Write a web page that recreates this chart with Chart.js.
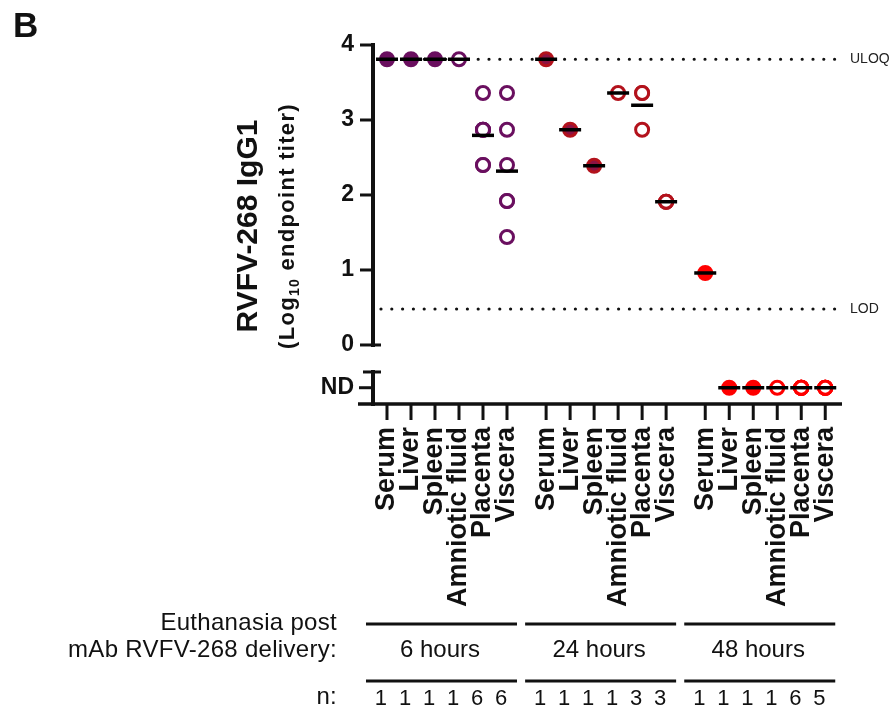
<!DOCTYPE html>
<html>
<head>
<meta charset="utf-8">
<script src="https://cdn.jsdelivr.net/npm/chart.js@4.4.1/dist/chart.umd.min.js"></script>
<style>
  html, body { margin: 0; padding: 0; background: #fff; }
  #wrap { width: 892px; height: 709px; }
</style>
</head>
<body>
<div id="wrap"><canvas id="chart" width="892" height="709"></canvas></div>
<script>
// categories
const tissues = ['Serum', 'Liver', 'Spleen', 'Amniotic fluid', 'Placenta', 'Viscera'];
const timepoints = ['6 hours', '24 hours', '48 hours'];
const maternal = [true, true, true, false, false, false]; // filled symbols

// log10 endpoint titers per tissue ('ND' = not detected)
const titers6h = [[3.81], [3.81], [3.81], [3.81], [3.36, 2.87, 2.87, 2.87, 2.40, 2.40], [3.36, 2.87, 2.40, 1.92, 1.92, 1.44]];
const titers24h = [[3.81], [2.87], [2.39], [3.36], [3.36, 3.36, 2.87], [1.91, 1.91, 1.91]];
const titers48h = [[0.96], ['ND'], ['ND'], ['ND'], ['ND', 'ND', 'ND', 'ND', 'ND', 'ND'], ['ND', 'ND', 'ND', 'ND', 'ND']];
const nCounts = [[1, 1, 1, 1, 6, 6], [1, 1, 1, 1, 3, 3], [1, 1, 1, 1, 6, 5]];

const yTicks = [0, 1, 2, 3, 4];
const uloq = 3.81;
const lod = 0.48;

// layout
const ND_Y = -0.57;      // where ND values sit on the broken axis
const ND_TOP = -0.36;    // top of the ND segment
const GROUP_STEP = 6.63;
const ringColors = ['#6a0f5f', '#b3121c', '#ff0000'];
const fillColors = ['#6a0f5f', '#8e1243', '#ff0000'];
const FONT = '"Liberation Sans", Arial, Helvetica, sans-serif';

Chart.defaults.font.family = FONT;
Chart.defaults.color = '#111';

const xPos = (g, i) => g * GROUP_STEP + i;
const toY = v => v === 'ND' ? ND_Y : v;
const allTiters = [titers6h, titers24h, titers48h];

const tickPositions = [];
const tickLabels = [];
timepoints.forEach((t, g) => tissues.forEach((name, i) => {
    tickPositions.push(xPos(g, i));
    tickLabels.push(name);
}));

const datasets = allTiters.map((grp, g) => ({
    label: timepoints[g],
    data: grp.flatMap((vals, i) => vals.map(v => ({ x: xPos(g, i), y: toY(v), t: i }))),
    borderColor: ringColors[g],
    backgroundColor: c => (c.raw && maternal[c.raw.t]) ? fillColors[g] : '#ffffff',
    pointRadius: 6.5,
    borderWidth: 3,
    showLine: false,
    clip: false
}));

function line(ctx, x1, y1, x2, y2) {
    ctx.beginPath();
    ctx.moveTo(x1, y1);
    ctx.lineTo(x2, y2);
    ctx.stroke();
}

const decor = {
    id: 'decor',
    beforeDatasetsDraw(chart) {
        const { ctx, chartArea: a, scales: { x, y } } = chart;
        ctx.save();
        ctx.strokeStyle = '#111';

        // ULOQ / LOD dotted lines
        ctx.lineWidth = 3.2;
        ctx.lineCap = 'round';
        ctx.setLineDash([0, 10.8]);
        [uloq, lod].forEach(v => {
            const py = y.getPixelForValue(v);
            line(ctx, a.left + 8, py, a.right - 4, py);
        });
        ctx.setLineDash([]);
        ctx.lineCap = 'butt';

        ctx.fillStyle = '#222';
        ctx.font = '14px ' + FONT;
        ctx.textAlign = 'left';
        ctx.textBaseline = 'middle';
        ctx.fillText('ULOQ', a.right + 8, y.getPixelForValue(uloq));
        ctx.fillText('LOD', a.right + 8, y.getPixelForValue(lod));

        // broken y axis
        const ax = a.left;
        ctx.lineWidth = 4;
        ctx.lineCap = 'square';
        line(ctx, ax, y.getPixelForValue(4), ax, y.getPixelForValue(0));
        line(ctx, ax, y.getPixelForValue(ND_TOP), ax, a.bottom);
        ctx.lineCap = 'butt';
        ctx.lineWidth = 3;
        yTicks.forEach(v => {
            const py = y.getPixelForValue(v);
            line(ctx, ax - 13, py, ax + (v === 0 ? 8 : 0), py);
        });
        const pTop = y.getPixelForValue(ND_TOP);
        line(ctx, ax - 10, pTop, ax + 8, pTop);
        const pNd = y.getPixelForValue(ND_Y);
        line(ctx, ax - 14, pNd, ax, pNd);

        // x axis with category ticks
        ctx.lineWidth = 3.5;
        line(ctx, ax - 15, a.bottom, a.right, a.bottom);
        ctx.lineWidth = 3;
        tickPositions.forEach(v => {
            const px = x.getPixelForValue(v);
            line(ctx, px, a.bottom, px, a.bottom + 16);
        });
        ctx.restore();
    },
    afterDatasetsDraw(chart) {
        const { ctx, scales: { x, y } } = chart;
        ctx.save();
        ctx.strokeStyle = '#000';
        ctx.lineWidth = 3.5;
        // mean bars
        allTiters.forEach((grp, g) => grp.forEach((vals, i) => {
            const m = vals.reduce((s, v) => s + toY(v), 0) / vals.length;
            const px = x.getPixelForValue(xPos(g, i));
            const py = y.getPixelForValue(m);
            line(ctx, px - 11, py, px + 11, py);
        }));
        ctx.restore();
    },
    afterDraw(chart) {
        const { ctx, scales: { x } } = chart;
        ctx.save();
        ctx.fillStyle = '#111';

        // panel letter
        ctx.font = 'bold 35px ' + FONT;
        ctx.textAlign = 'left';
        ctx.textBaseline = 'alphabetic';
        ctx.fillText('B', 13, 37);

        // y title
        ctx.save();
        ctx.translate(257, 226);
        ctx.rotate(-Math.PI / 2);
        ctx.textAlign = 'center';
        ctx.font = 'bold 30px ' + FONT;
        ctx.fillText('RVFV-268 IgG1', 0, 0);
        ctx.restore();

        ctx.save();
        ctx.translate(294, 226);
        ctx.rotate(-Math.PI / 2);
        ctx.textAlign = 'left';
        ctx.letterSpacing = '1.3px';
        const parts = [['(Log', 'bold 22px ', 0], ['10', 'bold 14px ', 5], [' endpoint titer)', 'bold 22px ', 0]];
        let total = 0;
        parts.forEach(p => { ctx.font = p[1] + FONT; p.push(ctx.measureText(p[0]).width); total += p[3]; });
        let cx = -total / 2;
        parts.forEach(p => { ctx.font = p[1] + FONT; ctx.fillText(p[0], cx, p[2]); cx += p[3]; });
        ctx.restore();

        // time point table
        ctx.font = '24px ' + FONT;
        ctx.letterSpacing = '0.3px';
        ctx.textAlign = 'right';
        ctx.fillText('Euthanasia post', 337, 630);
        ctx.fillText('mAb RVFV-268 delivery:', 337, 657);
        ctx.fillText('n:', 337, 704);
        ctx.letterSpacing = '0px';

        ctx.strokeStyle = '#111';
        ctx.lineWidth = 3;
        ctx.textAlign = 'center';
        timepoints.forEach((t, g) => {
            const p0 = x.getPixelForValue(xPos(g, 0));
            const p5 = x.getPixelForValue(xPos(g, tissues.length - 1));
            line(ctx, p0 - 21, 624, p5 + 10, 624);
            line(ctx, p0 - 21, 681, p5 + 10, 681);
            ctx.font = '24px ' + FONT;
            ctx.fillText(t, (p0 + p5) / 2 - 7, 657);
            ctx.font = '22px ' + FONT;
            nCounts[g].forEach((n, i) => {
                ctx.fillText(String(n), x.getPixelForValue(xPos(g, i)) - 6, 705);
            });
        });
        ctx.restore();
    }
};

new Chart(document.getElementById('chart'), {
    type: 'scatter',
    data: { datasets: datasets },
    options: {
        responsive: false,
        animation: false,
        events: [],
        layout: { padding: { left: 273, right: 50, top: 45, bottom: 0 } },
        plugins: { legend: { display: false }, tooltip: { enabled: false } },
        scales: {
            x: {
                type: 'linear',
                min: -0.583,
                max: 18.958,
                bounds: 'data',
                grid: { display: false, drawTicks: false },
                border: { display: false },
                afterBuildTicks: s => { s.ticks = tickPositions.map(v => ({ value: v })); },
                afterFit: s => { s.height = 305; },
                ticks: {
                    autoSkip: false,
                    minRotation: 90,
                    maxRotation: 90,
                    padding: 23,
                    color: '#111',
                    font: { size: 27, weight: 'bold' },
                    callback: (v, i) => tickLabels[i]
                }
            },
            y: {
                type: 'linear',
                min: -0.787,
                max: 4,
                bounds: 'data',
                grid: { display: false, drawTicks: false },
                border: { display: false },
                afterBuildTicks: s => { s.ticks = [ND_Y].concat(yTicks).map(v => ({ value: v })); },
                afterFit: s => { s.width = 100; },
                ticks: {
                    padding: 19,
                    color: '#111',
                    font: { size: 23, weight: 'bold' },
                    callback: (v, i) => i === 0 ? 'ND' : String(yTicks[i - 1])
                }
            }
        }
    },
    plugins: [decor]
});
</script>
</body>
</html>
